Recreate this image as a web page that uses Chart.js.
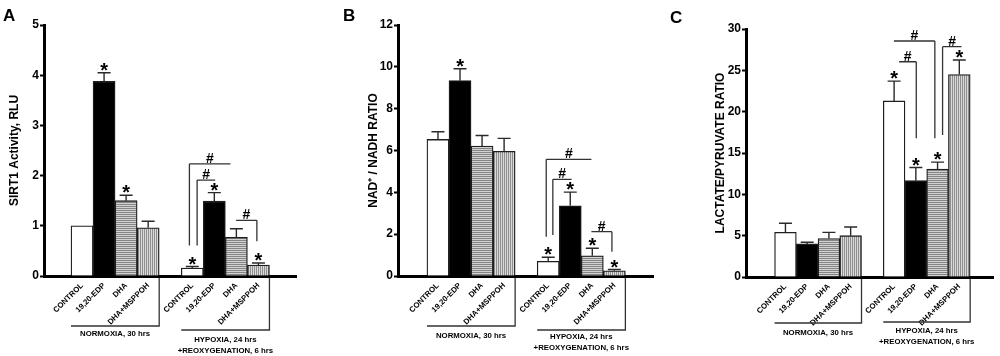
<!DOCTYPE html>
<html><head><meta charset="utf-8">
<script src="https://cdn.jsdelivr.net/npm/chart.js@4.4.1/dist/chart.umd.min.js"></script>
<style>
html,body{margin:0;padding:0;background:#fff;}
#wrap{position:relative;width:1000px;height:356px;overflow:hidden;background:#fff;}
canvas{position:absolute;top:0;}
</style></head><body>
<div id="wrap">
<canvas id="cA" width="330" height="356" style="left:0px"></canvas>
<canvas id="cB" width="330" height="356" style="left:330px"></canvas>
<canvas id="cC" width="340" height="356" style="left:660px"></canvas>
</div>
<script>
// ---- data ----
const categories = ['CONTROL', '19,20-EDP', 'DHA', 'DHA+MSPPOH'];
const groupLabels = [['NORMOXIA, 30 hrs'], ['HYPOXIA, 24 hrs', '+REOXYGENATION, 6 hrs']];

const sirt1Mean = [1.00, 3.88, 1.50, 0.96, 0.16, 1.49, 0.77, 0.22];
const sirt1Err  = [0.00, 0.17, 0.11, 0.13, 0.03, 0.17, 0.17, 0.04];
const sirt1Star = [0, 1, 1, 0, 1, 1, 0, 1];
const sirt1Ticks = [0, 1, 2, 3, 4, 5];

const nadMean = [6.53, 9.34, 6.21, 5.96, 0.70, 3.36, 0.97, 0.25];
const nadErr  = [0.37, 0.57, 0.51, 0.62, 0.20, 0.65, 0.36, 0.06];
const nadStar = [0, 1, 0, 0, 1, 1, 1, 1];
const nadTicks = [0, 2, 4, 6, 8, 10, 12];

const lpMean = [5.40, 4.00, 4.66, 5.00, 21.3, 11.65, 13.05, 24.5];
const lpErr  = [1.10, 0.20, 0.74, 1.05, 2.40, 1.60, 0.85, 1.75];
const lpStar = [0, 0, 0, 0, 1, 1, 1, 1];
const lpTicks = [0, 5, 10, 15, 20, 25, 30];

// significance brackets (# marks): x in bar-slot units, y in value units
const sirt1Sig = [
  {x1: 4.87, x2: 6.73, y: 2.235, drop: 'left', to: 0.61},
  {x1: 5.22, x2: 6.04, y: 1.91, drop: 'left', to: 0.61},
  {x1: 6.99, x2: 7.93, y: 1.11, drop: 'right', to: 0.69}
];
const nadSig = [
  {x1: 4.91, x2: 6.96, y: 5.58, drop: 'left', to: 1.88},
  {x1: 5.21, x2: 6.06, y: 4.62, drop: 'left', to: 1.96},
  {x1: 6.96, x2: 7.89, y: 2.12, drop: 'right', to: 1.16}
];
const lpSig = [
  {x1: 4.99, x2: 6.875, y: 28.55, drop: 'right', to: 16.78},
  {x1: 5.23, x2: 6.02, y: 26.04, drop: 'right', to: 16.78},
  {x1: 7.23, x2: 8.10, y: 27.86, drop: 'left', to: 17.18}
];

// ---- rendering ----
const FONT = '"Liberation Sans", Arial, Helvetica, sans-serif';
Chart.defaults.font.family = FONT;
Chart.defaults.color = '#000';

const n = categories.length;
const slotOf = i => Math.floor(i / n) * (n + 1) + (i % n);

function stripePattern(ctx, horizontal) {
  const c = document.createElement('canvas');
  c.width = 2; c.height = 2;
  const g = c.getContext('2d');
  g.fillStyle = horizontal ? '#d2d2d2' : '#dadada';
  g.fillRect(0, 0, 2, 2);
  g.fillStyle = horizontal ? '#858585' : '#8e8e8e';
  if (horizontal) g.fillRect(0, 0, 2, 1); else g.fillRect(0, 0, 1, 2);
  return ctx.createPattern(c, 'repeat');
}

function makeChart(id, cfg) {
  const canvas = document.getElementById(id);
  const ctx = canvas.getContext('2d');
  const fills = ['#ffffff', '#000000', stripePattern(ctx, true), stripePattern(ctx, false)];
  const tickSlots = cfg.means.map((v, i) => slotOf(i));

  const annot = {
    id: 'annot_' + id,
    afterDatasetsDraw(chart) {
      const c = chart.ctx, xs = chart.scales.x, ys = chart.scales.y;
      c.save();
      // error bars + stars
      cfg.means.forEach((m, i) => {
        const x = xs.getPixelForValue(slotOf(i));
        const yTop = ys.getPixelForValue(m);
        const yErr = ys.getPixelForValue(m + cfg.errs[i]);
        if (cfg.errs[i] > 0) {
          c.strokeStyle = '#2a2a2a'; c.lineWidth = 1.4;
          c.beginPath();
          c.moveTo(x, yTop); c.lineTo(x, yErr);
          c.moveTo(x - 6.5, yErr); c.lineTo(x + 6.5, yErr);
          c.stroke();
        }
        if (cfg.stars[i]) {
          c.fillStyle = '#000';
          c.font = 'bold 20px ' + FONT;
          c.textAlign = 'center'; c.textBaseline = 'alphabetic';
          c.fillText('*', x, yErr - 7 + 0.56 * 20);
        }
      });
      // significance brackets
      cfg.sigs.forEach(s => {
        const x1 = xs.getPixelForValue(s.x1), x2 = xs.getPixelForValue(s.x2);
        const y = ys.getPixelForValue(s.y), yd = ys.getPixelForValue(s.to);
        const xd = s.drop === 'left' ? x1 : x2;
        c.strokeStyle = '#333'; c.lineWidth = 1.3;
        c.beginPath();
        c.moveTo(x1, y); c.lineTo(x2, y);
        c.moveTo(xd, y); c.lineTo(xd, yd);
        c.stroke();
        c.fillStyle = '#000';
        c.font = 'bold 14px ' + FONT;
        c.textAlign = 'center'; c.textBaseline = 'alphabetic';
        c.fillText('#', (x1 + x2) / 2, y - 6 + 4.9);
      });
      // group brackets under the axis
      const base = ys.getPixelForValue(0);
      groupLabels.forEach((lines, g) => {
        const start = g * (n + 1) - 0.5, end = g * (n + 1) + n - 0.5;
        const xa = xs.getPixelForValue(start), xb = xs.getPixelForValue(end);
        const yl = base + cfg.groupLine[g];
        c.strokeStyle = '#333'; c.lineWidth = 1.3;
        c.beginPath();
        c.moveTo(xb, base + 2); c.lineTo(xb, yl); c.lineTo(xa, yl);
        c.stroke();
        c.fillStyle = '#000';
        c.font = 'bold 7.8px ' + FONT;
        c.textAlign = 'center'; c.textBaseline = 'middle';
        lines.forEach((t, k) => {
          c.fillText(t, (xa + xb) / 2, base + cfg.groupText[g] + k * 10.5);
        });
      });
      // panel letter
      c.fillStyle = '#000';
      c.font = 'bold 17px ' + FONT;
      c.textAlign = 'left'; c.textBaseline = 'alphabetic';
      c.fillText(cfg.letter, cfg.letterPos[0], cfg.letterPos[1]);
      c.restore();
    }
  };

  return new Chart(ctx, {
    type: 'bar',
    data: {
      datasets: [{
        data: cfg.means.map((v, i) => ({x: slotOf(i), y: v})),
        backgroundColor: cfg.means.map((v, i) => fills[i % n]),
        borderColor: '#1e1e1e',
        borderWidth: 1.3,
        barPercentage: 1,
        categoryPercentage: 1
      }]
    },
    options: {
      responsive: false,
      animation: false,
      devicePixelRatio: 1,
      layout: {padding: {left: cfg.pad.left, right: cfg.pad.right, top: cfg.pad.top, bottom: 0}},
      plugins: {legend: {display: false}, tooltip: {enabled: false}},
      scales: {
        x: {
          type: 'linear',
          min: cfg.xMin, max: cfg.xMax,
          afterBuildTicks: s => { s.ticks = tickSlots.map(v => ({value: v})); },
          afterFit: s => { s.height = cfg.xHeight; s.paddingLeft = 0; s.paddingRight = 0; },
          grid: {display: false},
          border: {display: true, width: 3, color: '#000'},
          ticks: {
            autoSkip: false, minRotation: 45, maxRotation: 45, padding: -3, labelOffset: 0,
            font: {size: 7.8, weight: 'bold'}, color: '#000',
            callback: v => categories[Math.round(v) % (n + 1)]
          }
        },
        y: {
          min: 0, max: cfg.yTicks[cfg.yTicks.length - 1],
          afterBuildTicks: s => { s.ticks = cfg.yTicks.map(v => ({value: v})); },
          afterFit: s => { s.width = cfg.yWidth; s.paddingTop = 0; s.paddingBottom = 0; },
          grid: {drawOnChartArea: false, drawTicks: true, tickLength: 4, tickWidth: 2, tickColor: '#000'},
          border: {display: true, width: 3, color: '#000'},
          ticks: {font: {size: 12, weight: 'bold'}, color: '#000', padding: 1},
          title: {display: true, text: cfg.title, font: {size: 12, weight: 'bold'}, color: '#000', padding: 0}
        }
      }
    },
    plugins: [annot]
  });
}

makeChart('cA', {
  letter: 'A', letterPos: [3, 21], title: 'SIRT1 Activity, RLU',
  means: sirt1Mean, errs: sirt1Err, stars: sirt1Star, sigs: sirt1Sig, yTicks: sirt1Ticks,
  xMin: -1.01, xMax: 8.99, pad: {left: 7, right: 34, top: 25}, yWidth: 37, xHeight: 80,
  groupLine: [50, 54], groupText: [58, 64]
});
makeChart('cB', {
  letter: 'B', letterPos: [13, 21], title: 'NAD\u207A / NADH RATIO',
  means: nadMean, errs: nadErr, stars: nadStar, sigs: nadSig, yTicks: nadTicks,
  xMin: -1.09, xMax: 9.03, pad: {left: 36, right: 7, top: 25}, yWidth: 32, xHeight: 80,
  groupLine: [50, 54], groupText: [60, 61]
});
makeChart('cC', {
  letter: 'C', letterPos: [10, 23], title: 'LACTATE/PYRUVATE RATIO',
  means: lpMean, errs: lpErr, stars: lpStar, sigs: lpSig, yTicks: lpTicks,
  xMin: -1.105, xMax: 8.84, pad: {left: 53, right: 7, top: 29}, yWidth: 33, xHeight: 79,
  groupLine: [46, 45], groupText: [56, 54]
});
</script>
</body></html>
